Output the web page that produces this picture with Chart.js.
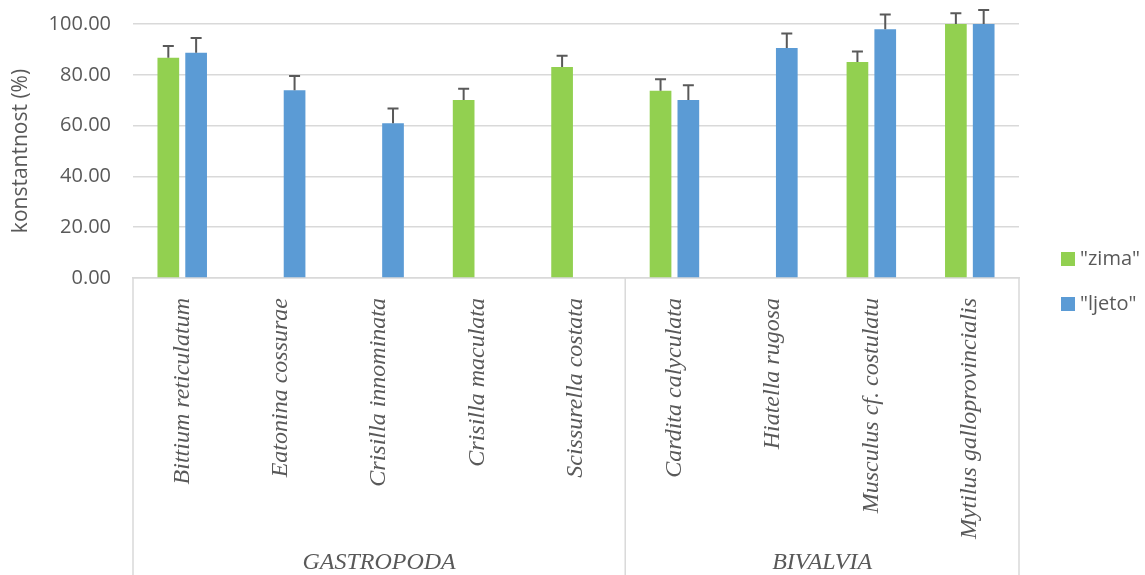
<!DOCTYPE html>
<html>
<head>
<meta charset="utf-8">
<script src="https://cdn.jsdelivr.net/npm/chart.js"></script>
<style>
  body { margin: 0; background: #fff; }
</style>
</head>
<body>
<canvas id="chart" width="1145" height="575"></canvas>
<script>
  const species = [
    "Bittium reticulatum", "Eatonina cossurae", "Crisilla innominata",
    "Crisilla maculata", "Scissurella costata", "Cardita calyculata",
    "Hiatella rugosa", "Musculus cf. costulatu", "Mytilus galloprovincialis"
  ];
  const groups = [
    { label: "GASTROPODA", from: 0, to: 4 },
    { label: "BIVALVIA", from: 5, to: 8 }
  ];
  const zima = [86.7, null, null, 70.1, 83.1, 73.7, null, 85.0, 100.0];
  const zimaErr = [4.6, null, null, 4.4, 4.4, 4.5, null, 4.2, 4.2];
  const ljeto = [88.7, 73.9, 60.9, null, null, 70.1, 90.6, 97.9, 100.0];
  const ljetoErr = [5.8, 5.6, 5.8, null, null, 5.8, 5.7, 5.8, 5.5];
  const yTicks = [0, 20, 40, 60, 80, 100];

  const grey = "#595959";
  const gridColor = "#d9d9d9";

  // upper error bars
  const errorBars = {
    id: "errorBars",
    afterDatasetsDraw(chart) {
      const ctx = chart.ctx;
      const y = chart.scales.y;
      ctx.save();
      ctx.strokeStyle = grey;
      ctx.lineWidth = 2;
      chart.data.datasets.forEach((ds, di) => {
        const meta = chart.getDatasetMeta(di);
        meta.data.forEach((bar, i) => {
          const v = ds.data[i], e = ds.err[i];
          if (v == null || e == null) return;
          const top = y.getPixelForValue(v + e);
          ctx.beginPath();
          ctx.moveTo(bar.x, bar.y);
          ctx.lineTo(bar.x, top);
          ctx.moveTo(bar.x - 5.5, top);
          ctx.lineTo(bar.x + 5.5, top);
          ctx.stroke();
        });
      });
      ctx.restore();
    }
  };

  // group labels under the category axis + legend on the right
  const extras = {
    id: "extras",
    afterDraw(chart) {
      const ctx = chart.ctx;
      const x = chart.scales.x;
      const area = chart.chartArea;
      const step = x.getPixelForTick(1) - x.getPixelForTick(0);
      const bottom = chart.height;
      ctx.save();
      ctx.strokeStyle = gridColor;
      ctx.lineWidth = 1.5;
      ctx.fillStyle = grey;
      ctx.font = "italic 24px 'Liberation Serif'";
      ctx.textAlign = "center";
      ctx.textBaseline = "middle";
      groups.forEach((g, gi) => {
        const x0 = x.getPixelForTick(g.from) - step / 2;
        const x1 = x.getPixelForTick(g.to) + step / 2;
        ctx.beginPath();
        if (gi === 0) { ctx.moveTo(x0, area.bottom); ctx.lineTo(x0, bottom); }
        ctx.moveTo(x1, area.bottom);
        ctx.lineTo(x1, bottom);
        ctx.stroke();
        ctx.fillText(g.label, (x0 + x1) / 2, 563);
      });

      // legend
      ctx.font = "20px 'Open Sans'";
      ctx.textAlign = "left";
      const rows = [259, 304];
      chart.data.datasets.forEach((ds, di) => {
        const cy = rows[di];
        ctx.fillStyle = ds.backgroundColor;
        ctx.fillRect(1061, cy - 7, 14, 14);
        ctx.fillStyle = grey;
        ctx.fillText('"' + ds.label + '"', 1080, cy);
      });
      ctx.restore();
    }
  };

  new Chart(document.getElementById("chart"), {
    type: "bar",
    data: {
      labels: species,
      datasets: [
        { label: "zima", data: zima, err: zimaErr, backgroundColor: "#92d050" },
        { label: "ljeto", data: ljeto, err: ljetoErr, backgroundColor: "#5b9bd5" }
      ]
    },
    options: {
      responsive: false,
      animation: false,
      events: [],
      layout: { padding: { top: 24, right: 126, left: 0, bottom: 0 } },
      datasets: { bar: { categoryPercentage: 0.565, barPercentage: 0.78 } },
      plugins: {
        legend: { display: false },
        tooltip: { enabled: false }
      },
      scales: {
        x: {
          afterFit(scale) { scale.height = 297; },
          grid: { display: false, drawTicks: false },
          border: { color: gridColor, width: 1.5 },
          ticks: {
            autoSkip: false,
            minRotation: 90,
            maxRotation: 90,
            padding: 20,
            color: grey,
            font: { family: "'Liberation Serif'", style: "italic", size: 24 }
          }
        },
        y: {
          min: 0,
          max: 100,
          afterFit(scale) {
            scale.width = 133;
            scale.paddingTop = 0;
            scale.paddingBottom = 0;
          },
          afterBuildTicks(scale) { scale.ticks = yTicks.map(v => ({ value: v })); },
          grid: { color: gridColor, lineWidth: 1.5, drawTicks: false },
          border: { display: false },
          ticks: {
            padding: 22,
            color: grey,
            font: { family: "'Open Sans'", size: 20 },
            callback: v => v.toFixed(2)
          },
          title: {
            display: true,
            text: "konstantnost (%)",
            color: grey,
            font: { family: "'Open Sans'", size: 21 },
            padding: { top: 8, bottom: 0 }
          }
        }
      }
    },
    plugins: [errorBars, extras]
  });
</script>
</body>
</html>
